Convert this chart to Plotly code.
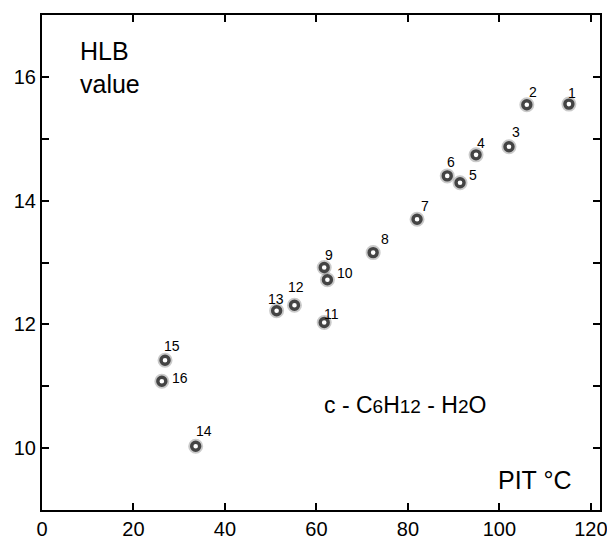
import plotly.graph_objects as go

# Data
sample_ids = ["1", "2", "3", "4", "5", "6", "7", "8", "9", "10", "11", "12", "13", "14", "15", "16"]
pit_c = [115.2, 106.0, 102.1, 94.9, 91.4, 88.6, 82.0, 72.4, 61.7, 62.4, 61.7, 55.2, 51.3, 33.6, 26.9, 26.2]
hlb = [15.56, 15.55, 14.87, 14.74, 14.29, 14.40, 13.70, 13.16, 12.92, 12.72, 12.03, 12.31, 12.22, 10.03, 11.42, 11.08]

x_tick_vals = [0, 20, 40, 60, 80, 100, 120]
y_tick_vals = [10, 11, 12, 13, 14, 15, 16]
y_tick_text = ["10", "", "12", "", "14", "", "16"]

# label offsets in pixels (dx, dy) relative to each point (style only)
label_offsets = [(3, 11), (6, 13), (7, 15), (5, 12), (13, 8), (4, 14), (8, 13), (12, 14),
                 (5, 12), (18, 7), (7, 9), (2, 18), (-1, 12), (8, 15), (7, 14), (18, 3)]

FONT = "Arial, Liberation Sans, sans-serif"

fig = go.Figure()
# soft halo to mimic the blurred rings
fig.add_trace(go.Scatter(
    x=pit_c, y=hlb, mode="markers", hoverinfo="skip",
    marker=dict(symbol="circle-open", size=10, color="rgba(80,80,80,0.3)", line=dict(width=5)),
    showlegend=False))
fig.add_trace(go.Scatter(
    x=pit_c, y=hlb, mode="markers",
    marker=dict(symbol="circle", size=8, color="white", line=dict(color="#444444", width=3.4)),
    showlegend=False))

for sid, xv, yv, (dx, dy) in zip(sample_ids, pit_c, hlb, label_offsets):
    fig.add_annotation(x=xv, y=yv, text=sid, showarrow=False, xshift=dx, yshift=dy,
                       font=dict(family=FONT, size=14, color="black"))

fig.add_annotation(xref="paper", yref="paper", x=0.0645, y=0.893, xanchor="left", yanchor="middle",
                   text="HLB<br>value", showarrow=False, align="left",
                   font=dict(family=FONT, size=25, color="black"))
fig.add_annotation(xref="paper", yref="paper", x=0.502, y=0.212, xanchor="left", yanchor="middle",
                   text='c - C<span style="font-size:19px">6</span>H<span style="font-size:19px">12</span> - H<span style="font-size:19px">2</span>O',
                   showarrow=False, font=dict(family=FONT, size=23, color="black"))
fig.add_annotation(xref="paper", yref="paper", x=0.952, y=0.061, xanchor="right", yanchor="middle",
                   text="PIT °C", showarrow=False,
                   font=dict(family=FONT, size=25, color="black"))

axis_common = dict(showgrid=False, zeroline=False, showline=True, linecolor="black", linewidth=2,
                   mirror="ticks", ticks="inside", ticklen=7, tickwidth=2, tickcolor="black",
                   automargin=False, tickfont=dict(family=FONT, size=20, color="black"))

fig.update_xaxes(range=[0, 122], tickmode="array", tickvals=x_tick_vals, **axis_common)
fig.update_yaxes(range=[9, 17], tickmode="array", tickvals=y_tick_vals, ticktext=y_tick_text, **axis_common)

# the page body adds an 8px offset, so the figure is 8px smaller and margins shifted
fig.update_layout(width=607, height=538, margin=dict(l=34, r=15, t=7, b=36),
                  plot_bgcolor="white", paper_bgcolor="white")

fig.write_html("out.html")
